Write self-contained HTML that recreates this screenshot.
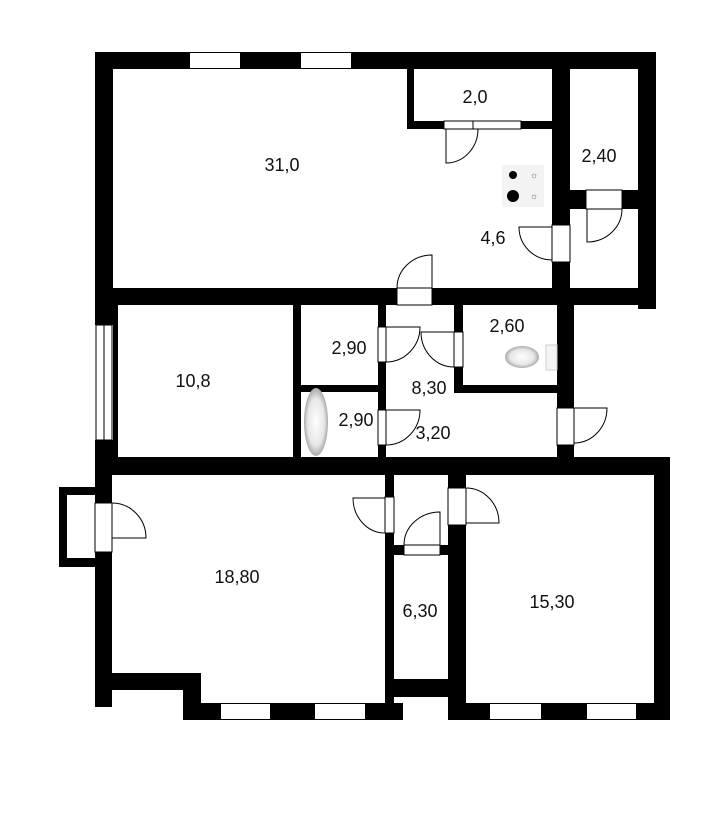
<!DOCTYPE html>
<html><head><meta charset="utf-8"><style>
html,body{margin:0;padding:0;background:#fff;}
svg{display:block;}
text{font-family:"Liberation Sans",sans-serif;font-size:18px;fill:#111;text-anchor:middle;dominant-baseline:central;}
</style></head><body>
<svg width="725" height="814" viewBox="0 0 725 814" xmlns="http://www.w3.org/2000/svg">
<defs>
<radialGradient id="g" cx="50%" cy="50%" r="50%"><stop offset="0" stop-color="#fff"/><stop offset="0.7" stop-color="#e6e6e6"/><stop offset="1" stop-color="#aaa"/></radialGradient>
</defs>
<rect width="725" height="814" fill="#fff"/>
<g fill="#000">
<rect x="95" y="52" width="561" height="17"/>
<rect x="95" y="52" width="18" height="273"/>
<rect x="638" y="52" width="18" height="257"/>
<rect x="95" y="288" width="561" height="17"/>
<rect x="407" y="69" width="7" height="60"/>
<rect x="407" y="121" width="145" height="8"/>
<rect x="552" y="69" width="18" height="236"/>
<rect x="570" y="190" width="68" height="19"/>
<rect x="95" y="440" width="18" height="35"/>
<rect x="113" y="305" width="5" height="152"/>
<rect x="293" y="305" width="8" height="160"/>
<rect x="378" y="305" width="8" height="160"/>
<rect x="301" y="385" width="77" height="7"/>
<rect x="454" y="305" width="9" height="88"/>
<rect x="454" y="385" width="120" height="8"/>
<rect x="557" y="305" width="17" height="160"/>
<rect x="95" y="457" width="575" height="18"/>
<rect x="95" y="475" width="17" height="232"/>
<rect x="59" y="487" width="36" height="80"/>
<rect x="95" y="673" width="106" height="17"/>
<rect x="183" y="673" width="18" height="47"/>
<rect x="183" y="703" width="220" height="17"/>
<rect x="385" y="475" width="9" height="245"/>
<rect x="385" y="679" width="63" height="18"/>
<rect x="394" y="545" width="54" height="10"/>
<rect x="448" y="475" width="18" height="245"/>
<rect x="654" y="475" width="16" height="245"/>
<rect x="448" y="703" width="222" height="17"/>
</g>
<g fill="#fff" stroke="#000" stroke-width="1">
<rect x="190" y="53" width="50" height="15" stroke="none"/>
<rect x="301" y="53" width="50" height="15" stroke="none"/>
<rect x="96" y="325" width="16" height="115"/>
<line x1="104" y1="325" x2="104" y2="440"/>
<rect x="221" y="704" width="49" height="15" stroke="none"/>
<rect x="315" y="704" width="50" height="15" stroke="none"/>
<rect x="490" y="704" width="51" height="15" stroke="none"/>
<rect x="587" y="704" width="49" height="15" stroke="none"/>
<rect x="67" y="495" width="28" height="63" stroke="none"/>
<rect x="444" y="121" width="77" height="8"/>
<line x1="473" y1="121" x2="473" y2="129"/>
<rect x="552" y="225" width="18" height="37"/>
<rect x="586" y="190" width="36" height="19"/>
<rect x="397" y="288" width="35" height="17"/>
<rect x="378" y="327" width="8" height="35"/>
<rect x="454" y="332" width="9" height="35"/>
<rect x="378" y="410" width="8" height="35"/>
<rect x="557" y="408" width="17" height="37"/>
<rect x="95" y="503" width="17" height="49"/>
<rect x="385" y="497" width="9" height="36"/>
<rect x="404" y="545" width="36" height="10"/>
<rect x="448" y="488" width="18" height="37"/>
</g>
<g fill="none" stroke="#000" stroke-width="1">
<path d="M446,129 L446,163 A32,34 0 0 0 478,129"/>
<path d="M552,227 L519,227 A33,33 0 0 0 552,260"/>
<path d="M587,209 L587,242 A35,33 0 0 0 622,209"/>
<path d="M432,288 L432,255 A35,33 0 0 0 397,288"/>
<path d="M386,327 L420,327 A34,35 0 0 1 386,362"/>
<path d="M454,332 L421,332 A33,35 0 0 0 454,367"/>
<path d="M386,410 L420,410 A34,35 0 0 1 386,445"/>
<path d="M574,408 L607,408 A33,35 0 0 1 574,443"/>
<path d="M112,538 L146,538 A34,35 0 0 0 112,503"/>
<path d="M385,498 L353,498 A32,35 0 0 0 385,533"/>
<path d="M440,545 L440,512 A36,33 0 0 0 404,545"/>
<path d="M466,523 L499,523 A33,35 0 0 0 466,488"/>
</g>
<rect x="502" y="165" width="42" height="42" fill="#f3f3f3"/>
<circle cx="513" cy="175" r="4" fill="#000"/>
<circle cx="513" cy="196" r="6" fill="#000"/>
<text x="534" y="175" style="font-size:9px;fill:#666">☼</text>
<text x="534" y="196" style="font-size:9px;fill:#666">☼</text>
<ellipse cx="522" cy="357" rx="17" ry="11" fill="url(#g)"/>
<rect x="546" y="345" width="11" height="25" fill="#f4f4f4" stroke="#ccc"/>
<ellipse cx="316" cy="422" rx="12" ry="34" fill="url(#g)"/>
<text x="282" y="165">31,0</text>
<text x="475" y="97">2,0</text>
<text x="599" y="156">2,40</text>
<text x="493" y="238">4,6</text>
<text x="193" y="381">10,8</text>
<text x="349" y="348">2,90</text>
<text x="356" y="420">2,90</text>
<text x="429" y="388">8,30</text>
<text x="433" y="433">3,20</text>
<text x="507" y="326">2,60</text>
<text x="237" y="577">18,80</text>
<text x="420" y="611">6,30</text>
<text x="552" y="602">15,30</text>
</svg>
</body></html>
